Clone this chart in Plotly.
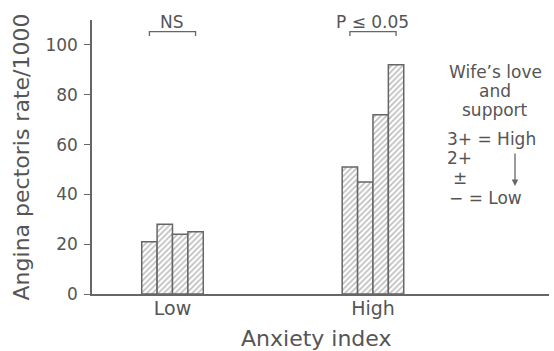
import plotly.graph_objects as go

# ---- data ----
anxiety_levels = ["Low", "High"]
support_levels = ["3+", "2+", "±", "−"]
rates_low_anxiety = [21, 28, 24, 25]
rates_high_anxiety = [51, 45, 72, 92]
y_ticks = [0, 20, 40, 60, 80, 100]
significance = ["NS", "P ≤ 0.05"]

TXT = "#555555"
FONT = "DejaVu Sans"
x_pos = list(range(len(anxiety_levels)))
n = len(support_levels)
bargap = 0.693
group_w = 1 - bargap
bar_w = group_w / n

fig = go.Figure()
for i, lvl in enumerate(support_levels):
    fig.add_trace(go.Bar(
        x=x_pos,
        y=[rates_low_anxiety[i], rates_high_anxiety[i]],
        name=lvl,
        marker=dict(
            color="white",
            line=dict(color="#666666", width=1.5),
            pattern=dict(shape="/", fgcolor="#777777", bgcolor="white", size=4, solidity=0.38),
        ),
        showlegend=False,
    ))

# significance brackets spanning first-to-last bar centres
for gx, label in zip(x_pos, significance):
    x0 = gx - group_w / 2 + bar_w / 2
    x1 = gx + group_w / 2 - bar_w / 2
    fig.add_shape(type="path",
                  path=f"M {x0},103.6 L {x0},105.3 L {x1},105.3 L {x1},103.6",
                  xref="x", yref="y", line=dict(color="#666666", width=1.3))
    fig.add_annotation(x=gx, y=109, xref="x", yref="y", text=label, showarrow=False,
                       font=dict(family=FONT, size=17, color=TXT), yanchor="middle",
                       borderpad=0)

# pixel -> paper helpers
def px2paper(px, py):
    return (px - 92) / (549 - 92), (294 - py) / (294 - 20)

def ptxt(text, px, py, anchor="center", size=17):
    x, y = px2paper(px, py)
    fig.add_annotation(x=x, y=y, xref="paper", yref="paper", text=text, showarrow=False,
                       xanchor=anchor, yanchor="middle", borderpad=0,
                       font=dict(family=FONT, size=size, color=TXT))

# right-hand key
ptxt("Wife’s love", 495, 72)
ptxt("and", 495, 91)
ptxt("support", 495, 110)
ptxt("3+ = High", 446, 139, "left")
ptxt("2+", 446, 158, "left")
ptxt("±", 452, 178, "left")
ptxt("− = Low", 448, 198, "left")
hx, hy = px2paper(515, 186)
fig.add_annotation(x=hx, y=hy, xref="paper", yref="paper",
                   ax=0, ay=-34, text="", showarrow=True, arrowhead=2, arrowsize=1,
                   arrowwidth=1.3, arrowcolor="#666666")

# x-axis title
ptxt("Anxiety index", 316, 338, size=22)

fig.update_layout(
    width=554, height=351,
    margin=dict(l=92, r=5, t=20, b=57),
    paper_bgcolor="white", plot_bgcolor="white",
    barmode="group", bargap=bargap, bargroupgap=0,
    font=dict(family=FONT, color=TXT),
)
fig.update_xaxes(
    range=[-0.4015, 1.878],
    tickvals=x_pos, ticktext=anxiety_levels,
    tickfont=dict(family=FONT, size=19, color=TXT),
    ticklabelstandoff=-4,
    automargin=False,
    showline=True, linecolor="#666666", linewidth=1.5,
    showgrid=False, zeroline=False, ticks="",
)
fig.update_yaxes(
    range=[0, 110],
    tickvals=y_ticks,
    tickfont=dict(family=FONT, size=17, color=TXT),
    ticklabelstandoff=3,
    automargin=False,
    showline=True, linecolor="#666666", linewidth=1.5,
    ticks="outside", ticklen=6, tickcolor="#666666", tickwidth=1.3,
    showgrid=False, zeroline=False,
    title=dict(text="Angina pectoris rate/1000", font=dict(family=FONT, size=22, color=TXT), standoff=10),
)

fig.write_html("out.html", config={"displayModeBar": False},
               post_script="document.body.style.margin='0';")
